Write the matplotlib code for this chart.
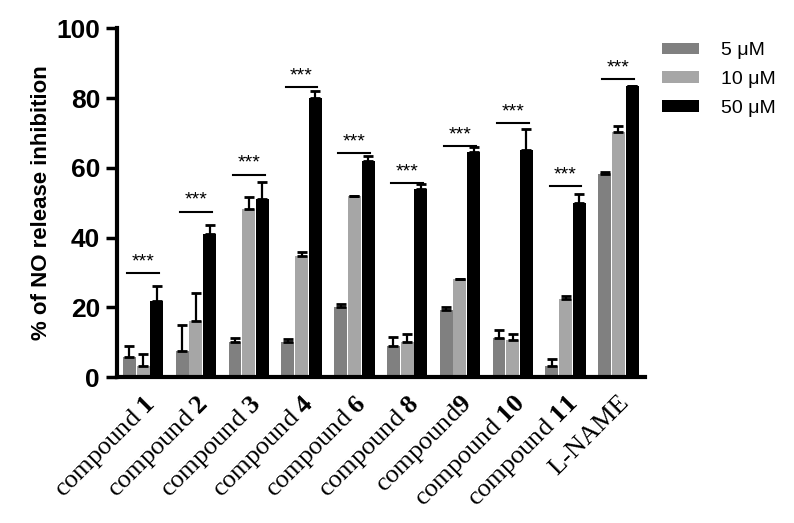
import numpy as np
import matplotlib.pyplot as plt

plt.rcParams['font.family'] = 'Liberation Sans'
plt.rcParams['mathtext.fontset'] = 'custom'
plt.rcParams['mathtext.rm'] = 'Liberation Serif'
plt.rcParams['mathtext.bf'] = 'Liberation Serif:bold'

labels = ["compound $\\mathbf{1}$", "compound $\\mathbf{2}$", "compound $\\mathbf{3}$",
          "compound $\\mathbf{4}$", "compound $\\mathbf{6}$", "compound $\\mathbf{8}$",
          "compound$\\mathbf{9}$", "compound $\\mathbf{10}$", "compound $\\mathbf{11}$",
          "L-NAME"]
series = ["5 μM", "10 μM", "50 μM"]
v5 = [5.8, 7.6, 10.2, 10.0, 20.0, 9.0, 19.3, 11.3, 3.2, 58.2]
e5 = [3.2, 7.2, 1.1, 1.0, 1.0, 2.5, 0.7, 2.2, 2.1, 0.6]
v10 = [3.2, 16.0, 48.3, 34.7, 52.0, 10.2, 28.0, 10.6, 22.5, 70.2]
e10 = [3.3, 8.0, 3.2, 1.1, 0.0, 2.1, 0.0, 1.7, 0.8, 1.8]
v50 = [21.7, 41.0, 51.0, 80.0, 62.0, 54.0, 64.5, 65.2, 49.8, 83.5]
e50 = [4.3, 2.5, 5.0, 2.0, 1.5, 1.3, 1.5, 6.0, 2.7, 0.0]
sig = [29.8, 47.3, 57.9, 83.1, 64.2, 55.6, 66.2, 72.8, 54.7, 85.4]
colors = ['#808080', '#a6a6a6', '#000000']

fig = plt.figure(figsize=(7.94, 5.23), dpi=100)
ax = fig.add_axes([0.147, 0.279, 0.665, 0.667])

x = np.arange(len(labels))
w = 0.245
offs = [-0.26, 0, 0.26]
for vals, errs, off, c, name in zip([v5, v10, v50], [e5, e10, e50], offs, colors, series):
    ax.bar(x + off, vals, w, color=c, label=name, zorder=2)
    ax.errorbar(x + off, vals, yerr=[np.zeros(len(errs)), errs], fmt='none',
                ecolor='black', elinewidth=1.6, capsize=3.5, capthick=2, zorder=3)

for i, s in enumerate(sig):
    ax.plot([i - 0.3, i + 0.3], [s, s], color='black', lw=1.5)
    ax.text(i, s + 0.9, "***", ha='center', va='bottom', fontsize=14)

ax.set_xlim(-0.5, 9.5)
ax.set_ylim(0, 100)
ax.set_yticks([0, 20, 40, 60, 80, 100])
ax.set_yticklabels(["0", "20", "40", "60", "80", "100"], fontsize=19, fontweight='bold')
ax.set_xticks(x)
ax.set_xticklabels(labels, rotation=45, ha='right', rotation_mode='anchor',
                   fontsize=19, family='Liberation Serif')
ax.tick_params(axis='x', length=0, pad=10)
ax.tick_params(axis='y', length=8, width=2.5, pad=4)
for s in ['top', 'right']:
    ax.spines[s].set_visible(False)
for s in ['left', 'bottom']:
    ax.spines[s].set_linewidth(3)
ax.set_ylabel("% of NO release inhibition", fontsize=16, fontweight='bold', labelpad=3)

ax.legend(loc='upper left', bbox_to_anchor=(1.0, 1.01), frameon=False, fontsize=14,
          handlelength=1.9, handleheight=0.55, labelspacing=0.6, handletextpad=1.1)

fig.savefig("out.png", dpi=100)
